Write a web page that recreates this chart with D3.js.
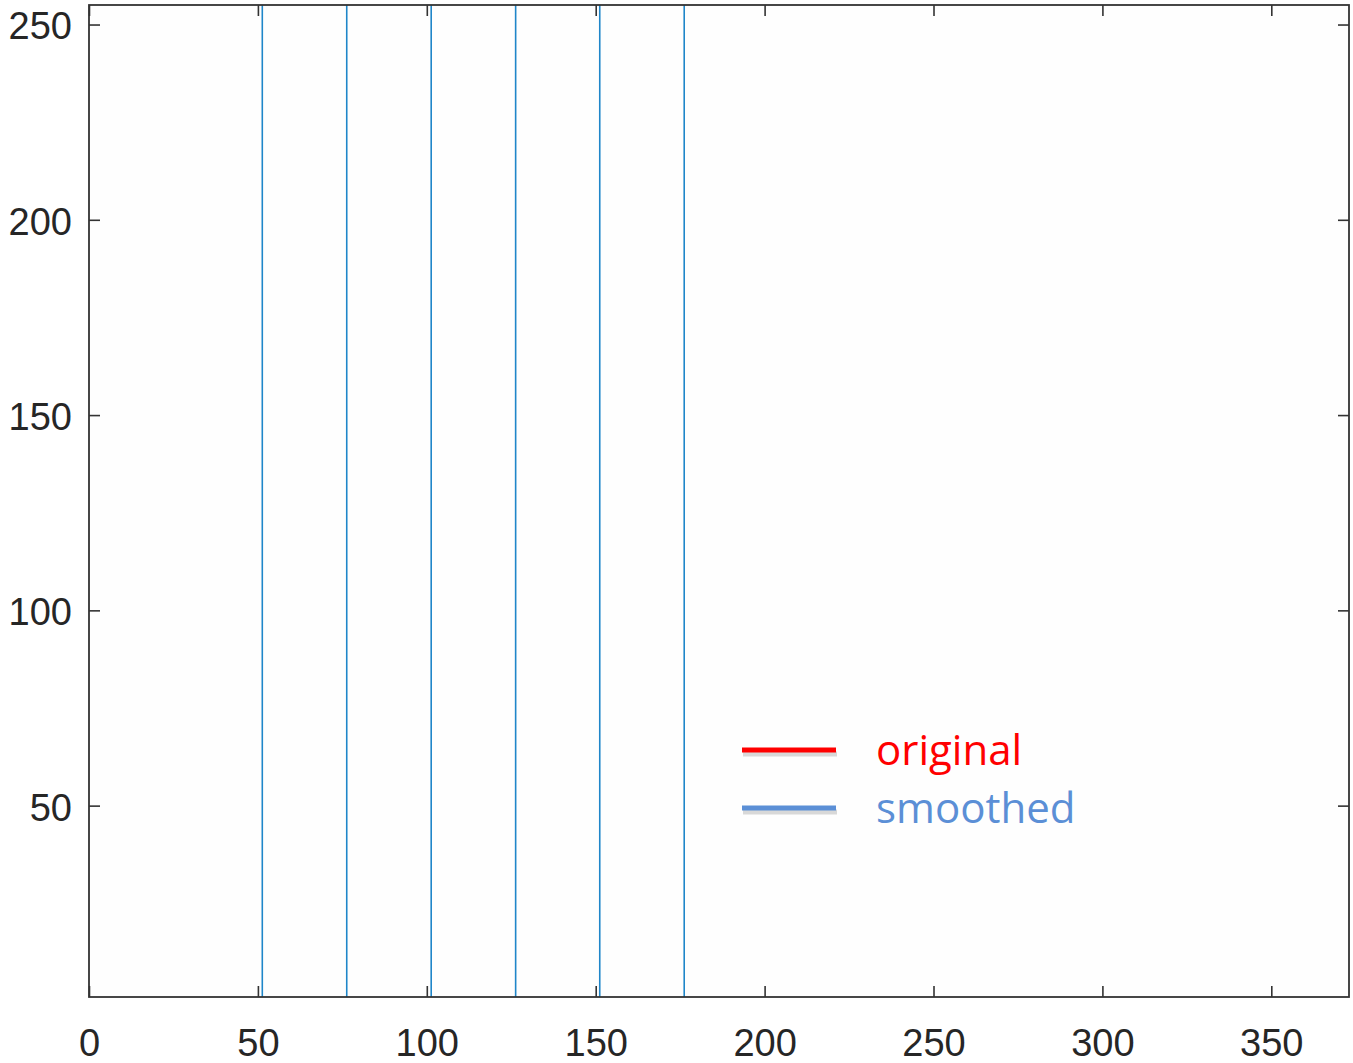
<!DOCTYPE html>
<html>
<head>
<meta charset="UTF-8">
<script src="https://d3js.org/d3.v7.min.js"></script>
<style>
  body { margin: 0; background: #fff; }
  .axis text { font-family: "Liberation Sans", Arial, sans-serif; font-size: 38px; fill: #262626; }
  .legend text { font-family: "Open Sans", "Noto Sans", sans-serif; font-size: 42px; }
</style>
</head>
<body>
<svg id="chart" width="1353" height="1063"></svg>
<script>
// data
const lineX = [51.3, 76.3, 101.3, 126.3, 151.2, 176.2];
const xTicks = [0, 50, 100, 150, 200, 250, 300, 350];
const yTicks = [50, 100, 150, 200, 250];
const legendNames = ["original", "smoothed"];
const legendColors = ["#ff0000", "#5b8fd6"];

const svg = d3.select("#chart");
const mLeft = 89, mTop = 5, mRight = 1349, mBottom = 997;

const x = d3.scaleLinear().domain([0, 373]).range([mLeft, mRight]);
const y = d3.scaleLinear().domain([1, 255]).range([mBottom, mTop]);

// plot background
svg.append("rect").attr("x", mLeft).attr("y", mTop)
   .attr("width", mRight - mLeft).attr("height", mBottom - mTop)
   .attr("fill", "#fefefe");

// vertical lines
svg.append("g").selectAll("line")
   .data(lineX).enter().append("line")
   .attr("x1", d => x(d)).attr("x2", d => x(d))
   .attr("y1", y(1)).attr("y2", y(255))
   .attr("stroke", "#1f86c9").attr("stroke-width", 1.6);

const tickLen = 11;
const axisColor = "#333";

// bottom axis (ticks pointing in)
const xb = svg.append("g").attr("class", "axis")
   .attr("transform", `translate(0,${mBottom})`)
   .call(d3.axisBottom(x).tickValues(xTicks).tickSizeInner(-tickLen).tickSizeOuter(0).tickPadding(25));
// top axis mirror ticks
const xt = svg.append("g").attr("class", "axis")
   .attr("transform", `translate(0,${mTop})`)
   .call(d3.axisTop(x).tickValues(xTicks).tickSizeInner(-tickLen).tickSizeOuter(0).tickFormat(""));
// left axis
const yl = svg.append("g").attr("class", "axis")
   .attr("transform", `translate(${mLeft},0)`)
   .call(d3.axisLeft(y).tickValues(yTicks).tickSizeInner(-tickLen).tickSizeOuter(0).tickPadding(17));
// right axis mirror
const yr = svg.append("g").attr("class", "axis")
   .attr("transform", `translate(${mRight},0)`)
   .call(d3.axisRight(y).tickValues(yTicks).tickSizeInner(-tickLen).tickSizeOuter(0).tickFormat(""));

[xb, xt, yl, yr].forEach(g => {
  g.select(".domain").remove();
  g.selectAll(".tick line").attr("stroke", axisColor).attr("stroke-width", 1.6);
});
xb.selectAll(".tick text").attr("dy", "0.9em");
yl.selectAll(".tick text").attr("dy", "0.38em");

// box
svg.append("rect").attr("x", mLeft).attr("y", mTop)
   .attr("width", mRight - mLeft).attr("height", mBottom - mTop)
   .attr("fill", "none").attr("stroke", axisColor).attr("stroke-width", 1.8);

// legend
const legend = svg.append("g").attr("class", "legend");
const item = legend.selectAll("g").data(legendNames).enter().append("g")
   .attr("transform", (d, i) => `translate(742,${750 + i * 58})`);
item.append("line")
   .attr("x1", 1).attr("x2", 95).attr("y1", 4).attr("y2", 4)
   .attr("stroke", "#000").attr("stroke-opacity", 0.15).attr("stroke-width", 5);
item.append("line")
   .attr("x1", 0).attr("x2", 94).attr("y1", 0).attr("y2", 0)
   .attr("stroke", (d, i) => legendColors[i]).attr("stroke-width", 5);
item.append("text")
   .attr("x", 134).attr("y", 15)
   .attr("fill", (d, i) => legendColors[i])
   .text(d => d);
</script>
</body>
</html>
